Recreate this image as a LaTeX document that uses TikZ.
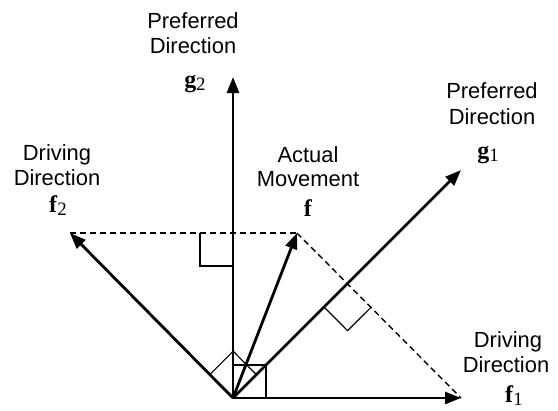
\documentclass[tikz,border=0pt]{standalone}
\usepackage{fontspec}
\setmainfont{Liberation Serif}
\newfontfamily\labelsans{Liberation Sans}
\usetikzlibrary{arrows.meta,calc}
\begin{document}
\begin{tikzpicture}[x=1bp,y=-1bp,
  vec/.style={line width=2.8bp,-{Triangle[length=16bp,width=12bp]}},
  guide/.style={line width=1.4bp,dash pattern=on 6bp off 4bp},
  rmark/.style={line width=1.2bp},
  lbl/.style={font=\labelsans\fontsize{22}{26}\selectfont,anchor=base,inner sep=0pt},
  sym/.style={anchor=base,inner sep=0pt}]
\useasboundingbox (0,0) rectangle (558,410);
% points
\coordinate (O) at (233,398);
\coordinate (F1) at (461,398);
\coordinate (F2) at (70,233);
\coordinate (G1) at (461,170);
\coordinate (G2) at (233,77);
\coordinate (F) at (297,233);
\coordinate (P) at (233,233);
\coordinate (Q) at (347.7,284);
% dashed guides
\draw[guide] (F2) -- (F);
\draw[guide] (F) -- (F1);
% right-angle marks
\coordinate (pa) at ($(P)!33bp!(F2)$);
\coordinate (pb) at ($(P)!33bp!(O)$);
\draw[rmark] (pa) -- ($(pa)+(pb)-(P)$) -- (pb);
\coordinate (qa) at ($(Q)!33bp!(O)$);
\coordinate (qb) at ($(Q)!33bp!(F1)$);
\draw[rmark] (qa) -- ($(qa)+(qb)-(Q)$) -- (qb);
\coordinate (oa) at ($(O)!33bp!(F2)$);
\coordinate (ob) at ($(O)!33bp!(G1)$);
\draw[rmark] (oa) -- ($(oa)+(ob)-(O)$) -- (ob);
\coordinate (oc) at ($(O)!33bp!(F1)$);
\coordinate (od) at ($(O)!33bp!(G2)$);
\draw[rmark] (oc) -- ($(oc)+(od)-(O)$) -- (od);
% vectors
\draw[vec] (O) -- (F1);
\draw[vec] (O) -- (F2);
\draw[vec] (O) -- (G1);
\draw[vec] (O) -- (G2);
\draw[vec] (O) -- (F);
% labels
\newcommand{\vsym}[2]{{\fontsize{24}{24}\selectfont\textbf{#1}}\raisebox{-3bp}{\fontsize{19}{19}\selectfont #2}}
\node[lbl] (tp1) at (193,28) {Preferred};
\node[lbl] (tp2) at (193,53) {Direction};
\node[sym] (tg) at (195,87) {\vsym{g}{2}};
\node[lbl] (rp1) at (492,98) {Preferred};
\node[lbl] (rp2) at (492,124) {Direction};
\node[sym] (rg) at (488,158) {\vsym{g}{1}};
\node[lbl] (ld1) at (57,160) {Driving};
\node[lbl] (ld2) at (57,185) {Direction};
\node[sym] (lf) at (58,212) {\vsym{f}{2}};
\node[lbl] (am1) at (308,162) {Actual};
\node[lbl] (am2) at (308,186) {Movement};
\node[sym] (af) at (308,216) {\vsym{f}{}};
\node[lbl] (bd1) at (508,347) {Driving};
\node[lbl] (bd2) at (506,372) {Direction};
\node[sym] (bf) at (514,402) {\vsym{f}{1}};
\end{tikzpicture}
\end{document}
